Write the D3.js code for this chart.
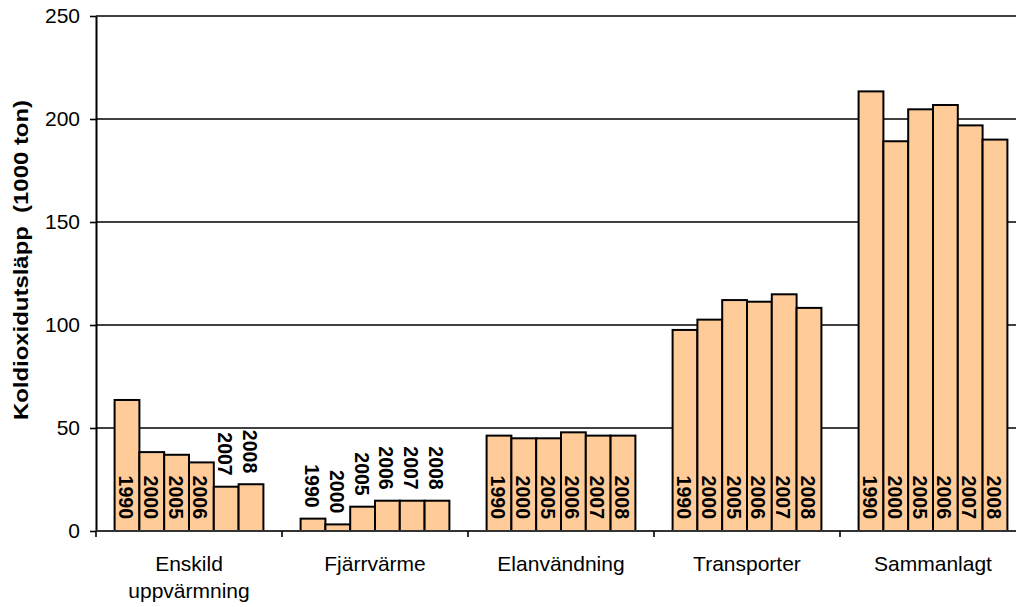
<!DOCTYPE html>
<html>
<head>
<meta charset="utf-8">
<script src="https://cdn.jsdelivr.net/npm/d3@7"></script>
<style>
  html, body { margin: 0; padding: 0; background: #fff; }
  svg { display: block; font-family: Arial, "Liberation Sans", sans-serif; }
</style>
</head>
<body>
<svg id="chart" width="1016" height="607"></svg>
<script>
// Sectors (two-line names are split on "\n")
const categories = ["Enskild\nuppvärmning", "Fjärrvärme", "Elanvändning", "Transporter", "Sammanlagt"];
const years = ["1990", "2000", "2005", "2006", "2007", "2008"];

// CO2 emissions, 1000 ton, one array per sector in year order
const enskild      = [63.6, 38.3, 37.0, 33.3, 21.5, 22.7];
const fjarrvarme   = [6.0, 3.2, 11.8, 14.7, 14.7, 14.7];
const elanvandning = [46.3, 45.0, 45.0, 47.9, 46.3, 46.3];
const transporter  = [97.6, 102.6, 112.1, 111.3, 114.9, 108.3];
const sammanlagt   = [213.4, 189.2, 204.7, 206.8, 196.9, 190.0];

const yTicks = [0, 50, 100, 150, 200, 250];
const yTitle = "Koldioxidutsläpp  (1000 ton)";

const series = [enskild, fjarrvarme, elanvandning, transporter, sammanlagt];
const rows = [];
categories.forEach((c, i) => years.forEach((yr, j) => rows.push({cat: c, year: yr, value: series[i][j]})));

const svg = d3.select("#chart");
const plotLeft = 96, plotTop = 16, plotBottom = 531, plotRight = 1026;

const x0 = d3.scaleBand().domain(categories).range([plotLeft, plotRight]).padding(0);
const x1 = d3.scaleBand().domain(years).range([0, x0.bandwidth()]).paddingInner(0).paddingOuter(0.75);
const y = d3.scaleLinear().domain([0, 250]).range([plotBottom, plotTop]);

// horizontal gridlines
svg.append("g").selectAll("line").data(yTicks.filter(d => d > 0)).join("line")
  .attr("x1", plotLeft).attr("x2", 1016)
  .attr("y1", d => y(d)).attr("y2", d => y(d))
  .attr("stroke", "#000").attr("stroke-width", 1.6);

// y axis
const yAxis = svg.append("g").attr("transform", `translate(${plotLeft},0)`)
  .call(d3.axisLeft(y).tickValues(yTicks).tickSize(6).tickPadding(10).tickSizeOuter(0));
yAxis.select(".domain").attr("stroke", "#000").attr("stroke-width", 2);
yAxis.selectAll(".tick line").attr("stroke", "#000").attr("stroke-width", 1.6);
yAxis.selectAll(".tick text").attr("font-size", 21).attr("fill", "#000")
  .attr("font-family", "Arial, 'Liberation Sans', sans-serif");

// bars
svg.append("g").selectAll("rect").data(rows).join("rect")
  .attr("x", d => x0(d.cat) + x1(d.year))
  .attr("width", x1.bandwidth())
  .attr("y", d => y(d.value))
  .attr("height", d => y(0) - y(d.value))
  .attr("fill", "#FFCC99")
  .attr("stroke", "#000").attr("stroke-width", 2);

// x axis
svg.append("line").attr("x1", plotLeft).attr("x2", 1016).attr("y1", plotBottom).attr("y2", plotBottom)
  .attr("stroke", "#333").attr("stroke-width", 2);
svg.append("g").selectAll("line").data(categories).join("line")
  .attr("x1", d => x0(d)).attr("x2", d => x0(d))
  .attr("y1", plotBottom).attr("y2", plotBottom + 6)
  .attr("stroke", "#000").attr("stroke-width", 1.6);

// category names
const catLabels = svg.append("g").selectAll("text").data(categories).join("text")
  .attr("x", d => x0(d) + x0.bandwidth() / 2)
  .attr("y", 571)
  .attr("text-anchor", "middle")
  .attr("font-size", 21).attr("fill", "#000");
catLabels.each(function(d) {
  const t = d3.select(this);
  d.split("\n").forEach((line, i) => {
    t.append("tspan").attr("x", x0(d) + x0.bandwidth() / 2).attr("dy", i === 0 ? 0 : 27).text(line);
  });
});

// year labels: inside the bar base when the bar is tall enough, otherwise above it
svg.append("g").selectAll("text").data(rows).join("text")
  .attr("transform", d => {
    const cx = x0(d.cat) + x1(d.year) + x1.bandwidth() / 2 - 1;
    const inside = y(0) - y(d.value) > 56;
    const yEnd = inside ? plotBottom - 12 : y(d.value) - 11;
    return `translate(${cx},${yEnd}) rotate(90)`;
  })
  .attr("text-anchor", "end")
  .attr("dy", "0.36em")
  .attr("font-size", 19.5).attr("font-weight", "bold").attr("fill", "#000")
  .text(d => d.year);

// y axis title
svg.append("text")
  .attr("transform", `translate(28,260) rotate(-90)`)
  .attr("text-anchor", "middle")
  .attr("font-size", 21).attr("font-weight", "bold").attr("fill", "#000")
  .attr("textLength", 320).attr("lengthAdjust", "spacingAndGlyphs")
  .style("white-space", "pre")
  .text(yTitle);
</script>
</body>
</html>
